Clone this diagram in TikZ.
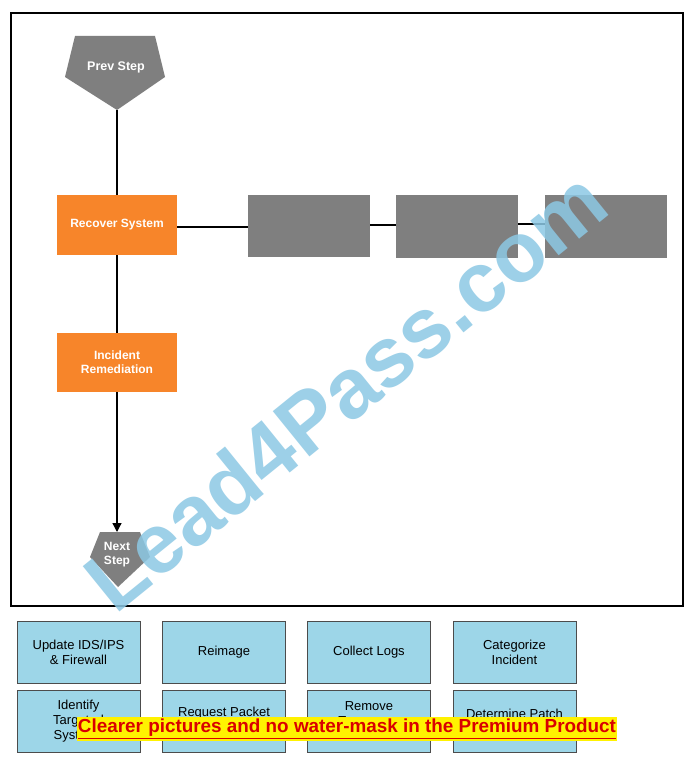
\documentclass[tikz,border=0pt]{standalone}
\usepackage{fontspec}
\setmainfont{Liberation Sans}
\usetikzlibrary{arrows.meta}
\definecolor{org}{HTML}{F7852A}
\definecolor{gry}{HTML}{7F7F7F}
\definecolor{lblue}{HTML}{9DD6E8}
\definecolor{wm}{HTML}{8CC8E4}
\tikzset{
  orbox/.style={fill=org,draw=none,text=white,font=\bfseries\fontsize{12}{14}\selectfont,align=center},
  graybox/.style={fill=gry,draw=none},
  bluebox/.style={fill=lblue,draw=black!70,line width=0.8pt,align=center,font=\fontsize{13}{15}\selectfont},
  conn/.style={line width=1.3pt,black},
}
\begin{document}
\begin{tikzpicture}[x=1pt,y=-1pt]
\useasboundingbox (0,0) rectangle (693,762);
\fill[white] (0,0) rectangle (693,762);
\draw[line width=1.6pt] (11,13) rectangle (683,606);
\fill[gry] (75,36) -- (155,36) -- (165,77) -- (117,110) -- (65,77) -- cycle;
\node[text=white,font=\bfseries\fontsize{12.5}{14}\selectfont] (prev) at (116,67) {Prev Step};
\coordinate (prevb) at (117,110);
\node[orbox,minimum width=120pt,minimum height=60pt] (rec) at (117,225) {Recover System};
\node[orbox,minimum width=120pt,minimum height=59pt] (inc) at (117,362.5) {Incident\\Remediation};
\node[graybox,minimum width=122pt,minimum height=62pt] (g1) at (309,226) {};
\node[graybox,minimum width=122pt,minimum height=63pt] (g2) at (457,226.5) {};
\node[graybox,minimum width=122pt,minimum height=63pt] (g3) at (606,226.5) {};
\fill[gry] (100,532) -- (140,532) -- (150,557) -- (118,587) -- (90,557) -- cycle;
\node[text=white,font=\bfseries\fontsize{12}{14}\selectfont,align=center] (next) at (117,555) {Next\\Step};
\coordinate (nextt) at (117,532);
\draw[conn] (prevb) -- (rec.north);
\draw[conn] (rec.south) -- (inc.north);
\draw[conn,-{Triangle[length=9pt,width=9pt]}] (inc.south) -- (nextt);
\draw[conn] (rec.east |- 0,227) -- (g1.west |- 0,227);
\draw[conn] (g1.east |- 0,225) -- (g2.west |- 0,225);
\draw[conn] (g2.east |- 0,224) -- (g3.west |- 0,224);
\foreach \n/\x/\y/\t in {b1/78.5/652.5/{Update IDS/IPS\\\& Firewall}, b2/224/652.5/Reimage, b3/369/652.5/Collect Logs, b4/514.5/652.5/{Categorize\\Incident},
  b5/78.5/721/{Identify\\Targeted\\Systems}, b6/224/721/{Request Packet\\Capture}, b7/369/721/{Remove\\Temporary\\Containment}, b8/514.5/721/{Determine Patch\\}}
  \node[bluebox,minimum width=123pt,minimum height=62pt] (\n) at (\x,\y) {\t};
\node[rotate=39,text=wm,opacity=0.85,font=\bfseries] (wmk) at (345,390) {\resizebox{640pt}{!}{Lead4Pass.com}};
\node[fill=yellow,inner sep=1pt,text=red!85!black,font=\bfseries] (ban) at (347,729) {\resizebox{538pt}{!}{\underline{Clearer pictures and no water-mask in the Premium Product}}};
\end{tikzpicture}
\end{document}
